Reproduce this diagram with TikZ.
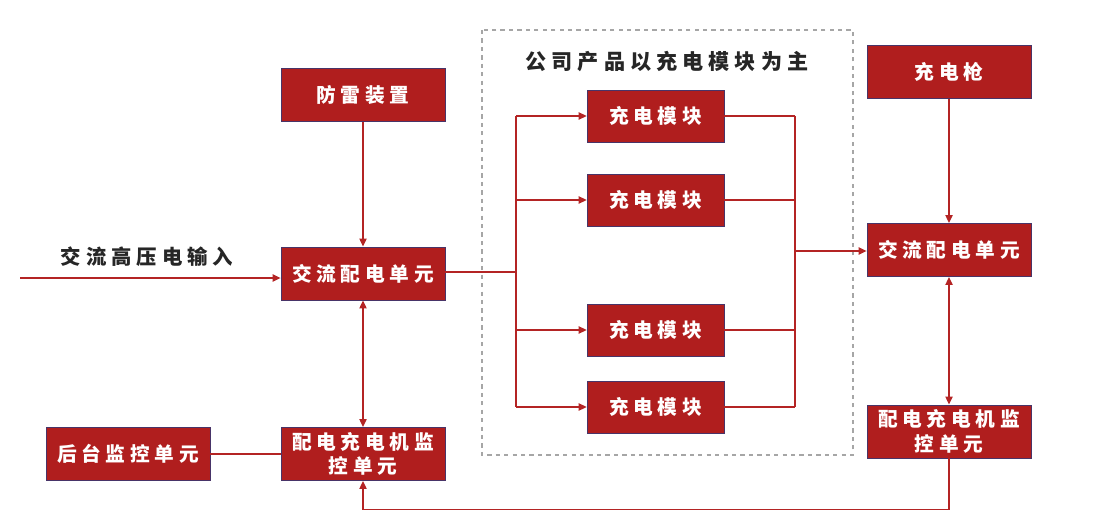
\documentclass[tikz,border=0pt]{standalone}
\usepackage{fontspec}
\usepackage{xcolor}
\usepackage{tikz}
\usetikzlibrary{arrows.meta}
\newfontfamily\cjk{Noto Sans CJK SC}[LetterSpace=24]
\newfontfamily\cjkwide{Noto Sans CJK SC}[LetterSpace=24]
\definecolor{boxred}{RGB}{176,30,30}
\definecolor{boxedge}{RGB}{72,52,104}
\definecolor{wirered}{RGB}{180,36,36}

\begin{document}
\begin{tikzpicture}[
  x=0.025cm, y=-0.025cm,
  unit/.style={draw=boxedge, fill=boxred, text=white, line width=0.5pt,
    font=\cjk\bfseries\fontsize{14}{17.5}\selectfont, align=center,
    minimum width=4.1cm, minimum height=1.33cm, inner sep=1pt},
  module/.style={unit, minimum width=3.42cm, minimum height=1.3cm},
  arr/.style={-{Triangle[length=2mm,width=1.8mm]}, draw=wirered, line width=1.1pt},
  dbl/.style={arr, {Triangle[length=2mm,width=1.8mm]}-{Triangle[length=2mm,width=1.8mm]}},
  wire/.style={draw=wirered, line width=1.1pt},
]
\useasboundingbox (0,0) rectangle (1103,531);

% dashed frame round the modules
\draw[gray!70, dashed, line width=1pt] (482,30) rectangle (853,455);
\node (title) [font=\cjkwide\bfseries\fontsize{15}{18}\selectfont, text=black!85] at (667,62) {公司产品以充电模块为主};

% Left column
\node (inlabel) [font=\cjkwide\bfseries\fontsize{14.5}{18}\selectfont, text=black!85] at (147,257) {交流高压电输入};
\node (surge) [unit] at (363,95) {防雷装置};
\node (lac) [unit] at (363,273.5) {交流配电单元};
\node (lmon) [unit] at (363,454) {配电充电机监\\控单元};
\node (back) [unit] at (128,454) {后台监控单元};
\coordinate (in) at (20,278);
\draw[arr] (in) -- (in -| lac.west);
\draw[arr] (surge) -- (lac);
\draw[dbl] (lac) -- (lmon);
\draw[wire] (back) -- (lmon);

% Middle: charging modules
\node (m1) [module] at (655.5,116) {充电模块};
\node (m2) [module] at (655.5,200) {充电模块};
\node (m3) [module] at (655.5,330) {充电模块};
\node (m4) [module] at (655.5,407) {充电模块};
\coordinate (busl) at (516,272);
\coordinate (busr) at (795,251);
\draw[wire] (lac.east |- busl) -- (busl);
\draw[wire] (m1.west -| busl) -- (m4.west -| busl);
\draw[wire] (m1.east -| busr) -- (m4.east -| busr);
\foreach \m in {m1,m2,m3,m4} {
  \draw[arr] (\m.west -| busl) -- (\m.west);
  \draw[wire] (\m.east) -- (\m.east -| busr);
}

% Right column
\node (gun) [unit] at (949,72) {充电枪};
\node (rac) [unit] at (949,250) {交流配电单元};
\node (rmon) [unit] at (949,431.5) {配电充电机监\\控单元};
\draw[arr] (busr) -- (busr -| rac.west);
\draw[arr] (gun) -- (rac);
\draw[dbl] (rac) -- (rmon);

% feedback loop along the bottom
\draw[arr] (rmon.south) -- ++(0,51) -| (lmon.south);

\end{tikzpicture}
\end{document}
